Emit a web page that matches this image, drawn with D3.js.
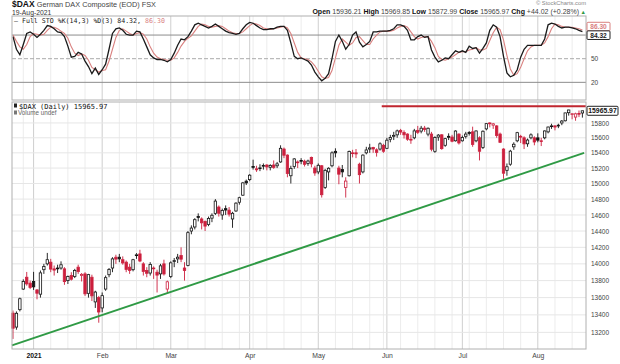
<!DOCTYPE html>
<html><head><meta charset="utf-8">
<script src="https://cdn.jsdelivr.net/npm/d3@7"></script>
<style>
body{margin:0;background:#fff}
svg{display:block;font-family:"Liberation Sans",Arial,sans-serif}
</style>
</head><body>
<svg id="c" width="620" height="364"></svg>
<script>
// ---------- DATA ----------
const dates = [
"2020-12-21","2020-12-22","2020-12-23","2020-12-28","2020-12-29","2020-12-30",
"2021-01-04","2021-01-05","2021-01-06","2021-01-07","2021-01-08","2021-01-11","2021-01-12","2021-01-13","2021-01-14","2021-01-15","2021-01-18","2021-01-19","2021-01-20","2021-01-21","2021-01-22","2021-01-25","2021-01-26","2021-01-27","2021-01-28","2021-01-29",
"2021-02-01","2021-02-02","2021-02-03","2021-02-04","2021-02-05","2021-02-08","2021-02-09","2021-02-10","2021-02-11","2021-02-12","2021-02-15","2021-02-16","2021-02-17","2021-02-18","2021-02-19","2021-02-22","2021-02-23","2021-02-24","2021-02-25","2021-02-26",
"2021-03-01","2021-03-02","2021-03-03","2021-03-04","2021-03-05","2021-03-08","2021-03-09","2021-03-10","2021-03-11","2021-03-12","2021-03-15","2021-03-16","2021-03-17","2021-03-18","2021-03-19","2021-03-22","2021-03-23","2021-03-24","2021-03-25","2021-03-26","2021-03-29","2021-03-30","2021-03-31",
"2021-04-01","2021-04-06","2021-04-07","2021-04-08","2021-04-09","2021-04-12","2021-04-13","2021-04-14","2021-04-15","2021-04-16","2021-04-19","2021-04-20","2021-04-21","2021-04-22","2021-04-23","2021-04-26","2021-04-27","2021-04-28","2021-04-29","2021-04-30",
"2021-05-03","2021-05-04","2021-05-05","2021-05-06","2021-05-07","2021-05-10","2021-05-11","2021-05-12","2021-05-13","2021-05-14","2021-05-17","2021-05-18","2021-05-19","2021-05-20","2021-05-21","2021-05-25","2021-05-26","2021-05-27","2021-05-28","2021-05-31",
"2021-06-01","2021-06-02","2021-06-03","2021-06-04","2021-06-07","2021-06-08","2021-06-09","2021-06-10","2021-06-11","2021-06-14","2021-06-15","2021-06-16","2021-06-17","2021-06-18","2021-06-21","2021-06-22","2021-06-23","2021-06-24","2021-06-25","2021-06-28","2021-06-29","2021-06-30",
"2021-07-01","2021-07-02","2021-07-05","2021-07-06","2021-07-07","2021-07-08","2021-07-09","2021-07-12","2021-07-13","2021-07-14","2021-07-15","2021-07-16","2021-07-19","2021-07-20","2021-07-21","2021-07-22","2021-07-23","2021-07-26","2021-07-27","2021-07-28","2021-07-29","2021-07-30",
"2021-08-02","2021-08-03","2021-08-04","2021-08-05","2021-08-06","2021-08-09","2021-08-10","2021-08-11","2021-08-12","2021-08-13","2021-08-16","2021-08-17","2021-08-18","2021-08-19"];

const opens = [
13420,13260,13460,13700,13840,13770,
13790,13690,13640,13930,14000,14020,13940,13950,13950,13940,13800,13860,13850,13960,13860,13880,13650,13840,13550,13600,
13480,13700,13870,13950,14080,14080,14050,14020,13960,13930,14100,14120,14000,13920,13890,13950,13900,13880,14000,13700,
13850,14030,14060,14100,13950,13980,14400,14450,14580,14550,14520,14480,14560,14620,14700,14600,14680,14660,14550,14650,14760,14850,15030,
15050,15220,15190,15200,15230,15240,15210,15240,15230,15280,15450,15370,15100,15220,15270,15300,15290,15260,15340,15200,
15150,15230,14950,15150,15230,15420,15200,15180,14950,15100,15400,15400,15250,15150,15400,15450,15470,15440,15450,15500,
15460,15580,15620,15640,15700,15670,15650,15580,15600,15700,15690,15730,15650,15650,15420,15610,15640,15500,15620,15610,15560,15650,
15560,15620,15670,15680,15560,15600,15470,15720,15800,15770,15760,15650,15450,15170,15250,15480,15560,15620,15600,15520,15600,15600,
15600,15560,15600,15680,15760,15760,15760,15800,15830,15940,15920,15880,15930,15936.21];

const highs = [
13450,13440,13600,13815,13903,13800,
13904,13700,13920,14000,14132,14060,13980,13990,14030,13960,13860,13900,13940,13990,13890,13900,13880,13870,13680,13620,
13660,13860,13950,14080,14110,14120,14090,14040,14000,14060,14130,14170,14020,13960,14020,13970,13930,14000,14050,13800,
14030,14070,14120,14200,14020,14400,14470,14560,14620,14570,14530,14580,14620,14800,14720,14680,14720,14700,14640,14760,14830,15020,15050,
15120,15310,15230,15250,15260,15250,15250,15300,15280,15500,15470,15380,15230,15330,15300,15330,15310,15310,15350,15230,
15260,15240,15190,15210,15420,15460,15230,15240,15080,15430,15440,15450,15270,15380,15480,15520,15480,15460,15540,15520,
15600,15640,15680,15710,15720,15700,15660,15640,15720,15760,15760,15760,15740,15680,15620,15650,15650,15600,15660,15640,15700,15660,
15630,15680,15690,15750,15700,15620,15700,15800,15810,15800,15770,15670,15460,15260,15440,15540,15680,15640,15620,15590,15660,15620,
15660,15600,15700,15750,15790,15770,15790,15840,15940,15980,15930,15940,15970,15969.85];

const lows = [
13126,13230,13440,13690,13740,13700,
13690,13580,13600,13880,13980,13900,13860,13890,13930,13750,13760,13800,13830,13880,13790,13620,13600,13560,13480,13310,
13430,13680,13840,13900,14000,14020,13990,13900,13880,13910,14060,14020,13860,13840,13860,13820,13660,13820,13860,13650,
13830,13960,14010,14020,13800,13970,14360,14420,14520,14420,14400,14460,14510,14600,14580,14540,14600,14580,14440,14640,14730,14840,14980,
15030,15180,15150,15160,15180,15170,15170,15190,15200,15270,15330,15080,15000,15190,15200,15250,15220,15230,15210,15100,
15120,14820,14930,15040,15210,15340,14990,15080,14820,15090,15340,15330,15000,15130,15380,15400,15400,15350,15430,15400,
15450,15540,15570,15600,15640,15590,15560,15520,15580,15650,15660,15680,15620,15420,15400,15560,15440,15480,15570,15540,15550,15510,
15550,15590,15630,15480,15540,15300,15450,15700,15740,15720,15600,15530,15060,15100,15230,15440,15540,15530,15450,15480,15580,15500,
15540,15490,15580,15660,15720,15700,15730,15770,15820,15900,15850,15830,15880,15872.99];

const closes = [
13247,13418,13587,13790,13761,13719,
13726,13651,13892,13968,14050,13937,13925,13940,13989,13788,13848,13816,13921,13907,13874,13644,13871,13620,13665,13433,
13623,13835,13933,14060,14057,14060,14011,13933,13921,14050,14109,14034,13909,13887,13993,13950,13865,13976,13879,13786,
14012,14039,14080,14056,13920,14380,14437,14541,14569,14502,14461,14557,14596,14775,14621,14657,14662,14610,14621,14749,14818,15008,15008,
15107,15212,15177,15203,15234,15215,15234,15209,15255,15460,15368,15129,15196,15320,15280,15296,15249,15292,15255,15136,
15236,14856,15170,15197,15400,15400,15120,15150,15031,15417,15395,15386,15114,15370,15438,15465,15451,15406,15520,15421,
15568,15603,15633,15693,15677,15640,15581,15571,15693,15674,15729,15711,15728,15448,15603,15636,15456,15589,15607,15554,15691,15531,
15603,15650,15661,15511,15692,15421,15688,15791,15790,15788,15630,15540,15133,15217,15422,15514,15669,15618,15519,15570,15640,15544,
15568,15555,15692,15745,15761,15745,15770,15826,15937,15977,15926,15925,15921.95,15965.97];
const prevCloseBefore = 13630; // close of 18-Dec-2020

const stoK = [
78,62,55,68,82,84,81,77,81,86,92,91,88,84,83,78,66,52,53,58,56,47,40,31,38,30,
36,43,62,82,88,89,86,81,80,80,85,84,75,65,55,51,49,49,48,46,
49,57,67,75,74,78,85,93,95,93,91,89,91,94,91,88,85,83,82,81,82,88,93,
96,95,92,89,87,87,88,88,90,91,91,86,70,53,50,51,49,47,42,33,
27,22,25,31,50,72,80,72,62,68,80,84,71,65,68,72,84,84,85,85,
85,86,88,93,93,91,86,74,74,78,80,77,78,61,52,46,48,51,50,55,60,58,
60,58,66,63,64,57,63,70,86,93,90,78,53,32,27,29,36,52,62,67,67,67,
67,67,75,93,95,94,91,89,90,90,89,88,86,84.32];

const stoD = [
80,72,65,62,68,78,82,81,80,81,86,90,90,88,85,82,76,65,57,54,56,54,48,39,36,33,
35,36,47,62,77,86,88,85,82,80,82,83,81,75,65,57,52,50,49,48,
48,51,58,66,72,76,79,85,91,94,93,91,90,91,92,91,88,85,83,82,82,84,88,
92,95,94,92,89,88,87,88,89,90,91,89,82,70,58,51,50,49,46,41,
34,27,25,26,35,51,67,75,71,67,70,77,78,73,68,68,75,80,84,85,
85,85,86,89,91,92,90,84,78,75,77,78,78,72,64,53,49,48,50,52,55,58,
59,59,61,62,64,61,61,63,73,83,90,87,74,54,37,29,31,39,50,60,65,67,
67,67,70,78,88,94,93,91,90,90,90,89,88,86.30];

const priceTicks = [13200,13400,13600,13800,14000,14200,14400,14600,14800,15000,15200,15400,15600,15800];
const stoLevels = [20,50,80];
const stoTickLabels = [20,50];   // the 80 label is hidden under the value boxes in the reference
const monthNames = ["Jan","Feb","Mar","Apr","May","Jun","Jul","Aug","Sep","Oct","Nov","Dec"];
// annotation lines: [day index, price]
const trendIdx = [-0.3, 166.5];
const trendPrice = [13054, 15400];
const resistIdx = [107.5, 167.1];
const resistPrice = [16030, 16030];

// ---------- LAYOUT ----------
const L = 12, R = 586;
const stoTop = 16, stoBot = 100, prTop = 102, prBot = 349;
const svg = d3.select("#c");
const parse = d3.timeParse("%Y-%m-%d");
const dts = dates.map(parse);
const n = dates.length;

const x = d3.scaleLinear().domain([0, n - 1]).range([13, 582.4]);
const y = d3.scaleLog().domain([13013, 16087]).range([prBot, prTop]);
const ys = d3.scaleLinear().domain([0, 100]).range([98.1, 19.3]);

const RED = "#cc1f3d", BLACK = "#111";

// grid positions
const weekStarts = [], monthStarts = [];
dts.forEach((d, i) => {
  if (i === 0) return;
  const p = dts[i - 1];
  if (d.getMonth() !== p.getMonth()) monthStarts.push(i);
  else if (d.getDay() < p.getDay() || (d - p) > 4 * 864e5) weekStarts.push(i);
});

function panelGrid(top, bot) {
  const g = svg.append("g");
  g.selectAll(".w").data(weekStarts).join("line")
    .attr("x1", d => x(d)).attr("x2", d => x(d)).attr("y1", top).attr("y2", bot)
    .attr("stroke", "#ececec").attr("stroke-width", 1);
  g.selectAll(".m").data(monthStarts).join("line")
    .attr("x1", d => x(d)).attr("x2", d => x(d)).attr("y1", top).attr("y2", bot)
    .attr("stroke", "#cfcfcf").attr("stroke-width", 1);
  return g;
}

// ---------- STO PANEL ----------
panelGrid(stoTop, stoBot);
stoLevels.forEach(t => {
  svg.append("line").attr("x1", L).attr("x2", R).attr("y1", ys(t)).attr("y2", ys(t))
    .attr("stroke", t === 50 ? "#aaa" : "#8c8c8c").attr("stroke-width", 1)
    .attr("stroke-dasharray", t === 50 ? "4,2" : null);
});
const stoLine = arr => d3.line().x((d, i) => x(i)).y(d => ys(d))(arr);
svg.append("path").attr("d", stoLine(stoD)).attr("fill", "none").attr("stroke", "#d9807f").attr("stroke-width", 1.1);
svg.append("path").attr("d", stoLine(stoK)).attr("fill", "none").attr("stroke", "#1a1a1a").attr("stroke-width", 1.3);
svg.append("rect").attr("x", L).attr("y", stoTop).attr("width", R - L).attr("height", stoBot - stoTop)
  .attr("fill", "none").attr("stroke", "#b0b0b0");

const sAxis = svg.append("g").attr("transform", `translate(${R},0)`)
  .call(d3.axisRight(ys).tickValues(stoTickLabels).tickSize(0).tickPadding(5));
sAxis.select(".domain").remove();
sAxis.selectAll("text").attr("font-size", 6.5).attr("fill", "#444").attr("font-family", "Liberation Sans, Arial");

// STO value boxes (stacked so their texts do not collide)
function valBox(v, yy, col, w) {
  const g = svg.append("g");
  g.append("rect").attr("x", R + 1).attr("y", yy - 4.3).attr("width", w).attr("height", 8.6)
    .attr("fill", "#fff").attr("stroke", col).attr("stroke-width", 1).attr("rx", 1);
  g.append("text").attr("x", R + 1 + w / 2).attr("y", yy + 2.4).attr("text-anchor", "middle")
    .attr("font-size", 6.6).attr("fill", col).attr("font-weight", "bold").text(v);
}
valBox(stoD[n - 1].toFixed(2), ys(stoD[n - 1]) - 3.5, "#d9807f", 23);
valBox(stoK[n - 1].toFixed(2), ys(stoK[n - 1]) + 3.5, "#222", 23);

// ---------- PRICE PANEL ----------
panelGrid(prTop, prBot);
svg.selectAll(".hg").data(priceTicks).join("line")
  .attr("x1", L).attr("x2", R).attr("y1", d => y(d)).attr("y2", d => y(d))
  .attr("stroke", "#e6e6e6");

// candles
const cg = svg.append("g");
const bw = 2.4;
d3.range(n).forEach(i => {
  const o = opens[i], h = highs[i], l = lows[i], c = closes[i];
  const pc = i === 0 ? prevCloseBefore : closes[i - 1];
  const col = c >= pc ? BLACK : RED;
  const hollow = c >= o;
  const xi = x(i);
  const top = y(Math.max(o, c)), bot = y(Math.min(o, c));
  cg.append("line").attr("x1", xi).attr("x2", xi).attr("y1", y(h)).attr("y2", top)
    .attr("stroke", col).attr("stroke-width", 0.9);
  cg.append("line").attr("x1", xi).attr("x2", xi).attr("y1", bot).attr("y2", y(l))
    .attr("stroke", col).attr("stroke-width", 0.9);
  cg.append("rect").attr("x", xi - bw / 2).attr("y", top).attr("width", bw)
    .attr("height", Math.max(0.8, bot - top))
    .attr("fill", hollow ? "#fff" : col).attr("stroke", col).attr("stroke-width", 0.8);
});

// annotation lines
const annot = d3.line().x(d => x(d[0])).y(d => y(d[1]));
svg.append("path").attr("d", annot(d3.zip(trendIdx, trendPrice)))
  .attr("stroke", "#2f9a45").attr("stroke-width", 2).attr("fill", "none");
svg.append("path").attr("d", annot(d3.zip(resistIdx, resistPrice)))
  .attr("stroke", "#c0262f").attr("stroke-width", 2).attr("fill", "none");

svg.append("rect").attr("x", L).attr("y", prTop).attr("width", R - L).attr("height", prBot - prTop)
  .attr("fill", "none").attr("stroke", "#b0b0b0");

const pAxis = svg.append("g").attr("transform", `translate(${R},0)`)
  .call(d3.axisRight(y).tickValues(priceTicks).tickFormat(d3.format("d")).tickSize(0).tickPadding(5));
pAxis.select(".domain").remove();
pAxis.selectAll("text").attr("font-size", 6.5).attr("fill", "#444").attr("font-family", "Liberation Sans, Arial");

// last price box
(function () {
  const c = closes[n - 1], yy = y(c);
  svg.append("rect").attr("x", R + 1).attr("y", yy - 4.5).attr("width", 31).attr("height", 9)
    .attr("fill", "#fff").attr("stroke", "#222").attr("rx", 1);
  svg.append("text").attr("x", R + 16.5).attr("y", yy + 2.5).attr("text-anchor", "middle")
    .attr("font-size", 6.8).attr("font-weight", "bold").attr("fill", "#111").text(c.toFixed(2));
})();

// x axis (months)
const monthTickIdx = [6].concat(monthStarts.filter(i => i > 6));
const xAxis = svg.append("g").attr("transform", `translate(0,${prBot})`)
  .call(d3.axisBottom(x).tickValues(monthTickIdx).tickSize(0).tickPadding(4)
    .tickFormat(i => dts[i].getMonth() === 0 ? String(dts[i].getFullYear()) : monthNames[dts[i].getMonth()]));
xAxis.select(".domain").remove();
xAxis.selectAll("text").attr("font-size", 6.8).attr("font-family", "Liberation Sans, Arial")
  .attr("font-weight", (i) => dts[i].getMonth() === 0 ? "bold" : "normal")
  .attr("fill", (i) => dts[i].getMonth() === 0 ? "#111" : "#444");

// ---------- TEXTS ----------
const t1 = svg.append("text").attr("x", L).attr("y", 7);
t1.append("tspan").attr("font-weight", "bold").attr("font-size", 8.5).attr("fill", "#111").text("$DAX");
t1.append("tspan").attr("font-size", 7.3).attr("fill", "#444").text(" German DAX Composite (EOD) FSX");
svg.append("text").attr("x", L).attr("y", 14.5).attr("font-size", 6.8).attr("fill", "#333").text("19-Aug-2021");
svg.append("text").attr("x", R).attr("y", 5).attr("text-anchor", "end").attr("font-size", 5.8).attr("fill", "#888")
  .text("© StockCharts.com");

const hdr = [["Open", "15936.21"], ["High", "15969.85"], ["Low", "15872.99"], ["Close", "15965.97"], ["Chg", "+44.02 (+0.28%)"]];
const t2 = svg.append("text").attr("x", R).attr("y", 14).attr("text-anchor", "end").attr("font-size", 7);
hdr.forEach(([k, v], j) => {
  t2.append("tspan").attr("font-weight", "bold").attr("fill", "#111").text((j ? " " : "") + k + " ");
  t2.append("tspan").attr("fill", "#444").text(v);
});
t2.append("tspan").attr("fill", "#2f9a45").attr("font-size", 5.5).text(" ▲");

const mono = "DejaVu Sans Mono, monospace";
const t3 = svg.append("text").attr("x", 14).attr("y", 22.5).attr("font-family", mono).attr("font-size", 6.6);
t3.append("tspan").attr("fill", "#222").text("— Full STO %K(14,3) %D(3) " + stoK[n - 1].toFixed(2) + ", ");
t3.append("tspan").attr("fill", "#d9807f").text(stoD[n - 1].toFixed(2));

svg.append("rect").attr("x", 14).attr("y", 103.5).attr("width", 3).attr("height", 4).attr("fill", "#222");
svg.append("text").attr("x", 19).attr("y", 108.5).attr("font-family", mono).attr("font-size", 7).attr("fill", "#111")
  .text("$DAX (Daily) " + closes[n - 1].toFixed(2));
svg.append("rect").attr("x", 14).attr("y", 110.5).attr("width", 3).attr("height", 4).attr("fill", "#777");
svg.append("text").attr("x", 18).attr("y", 115).attr("font-size", 6.3).attr("fill", "#666").text("Volume undef");
</script>
</body></html>
